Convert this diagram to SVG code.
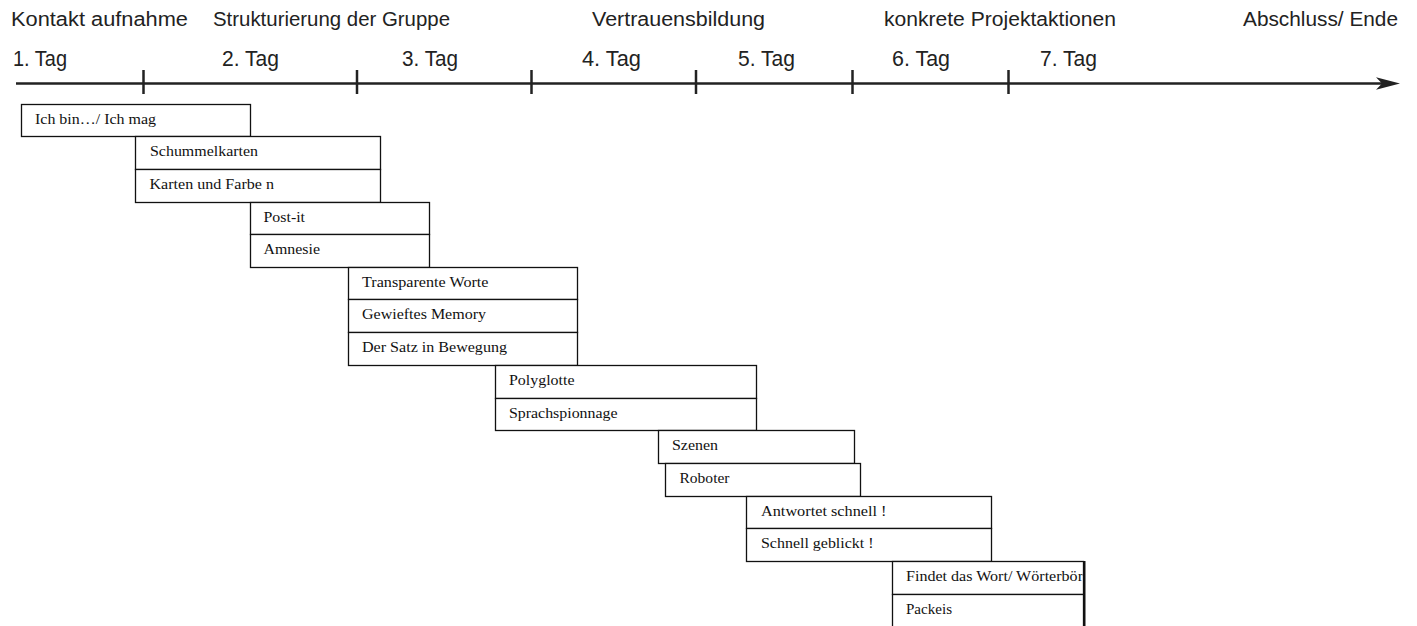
<svg xmlns="http://www.w3.org/2000/svg" width="1417" height="626" viewBox="0 0 1417 626">
<defs>
<style>
.hd{font-family:"Liberation Sans",Arial,sans-serif;font-size:20px;fill:#222}
.day{font-family:"Liberation Sans",Arial,sans-serif;font-size:22px;fill:#222}
.bx{fill:#fff;stroke:#111;stroke-width:1.3}
.bt{font-family:"Liberation Serif","Times New Roman",serif;font-size:14.5px;fill:#111}
.ax{stroke:#222;stroke-width:2.5;fill:none}
</style>
<clipPath id="clipFindet"><rect x="892" y="561" width="190.5" height="33"/></clipPath>
</defs>
<rect width="1417" height="626" fill="#fff"/>
<g id="headers">
<text class="hd" x="11" y="26" textLength="177" lengthAdjust="spacingAndGlyphs">Kontakt aufnahme</text>
<text class="hd" x="213" y="26" textLength="237" lengthAdjust="spacingAndGlyphs">Strukturierung der Gruppe</text>
<text class="hd" x="592" y="26" textLength="173" lengthAdjust="spacingAndGlyphs">Vertrauensbildung</text>
<text class="hd" x="884" y="26" textLength="232" lengthAdjust="spacingAndGlyphs">konkrete Projektaktionen</text>
<text class="hd" x="1243" y="26" textLength="155" lengthAdjust="spacingAndGlyphs">Abschluss/ Ende</text>
</g>
<g id="days">
<text class="day" x="13" y="66" textLength="54" lengthAdjust="spacingAndGlyphs">1. Tag</text>
<text class="day" x="222" y="66" textLength="57" lengthAdjust="spacingAndGlyphs">2. Tag</text>
<text class="day" x="402" y="66" textLength="56" lengthAdjust="spacingAndGlyphs">3. Tag</text>
<text class="day" x="582" y="66" textLength="59" lengthAdjust="spacingAndGlyphs">4. Tag</text>
<text class="day" x="738" y="66" textLength="57" lengthAdjust="spacingAndGlyphs">5. Tag</text>
<text class="day" x="892" y="66" textLength="58" lengthAdjust="spacingAndGlyphs">6. Tag</text>
<text class="day" x="1040" y="66" textLength="57" lengthAdjust="spacingAndGlyphs">7. Tag</text>
</g>
<g id="connectors">
<line class="ax" x1="16" y1="83.5" x2="1384" y2="83.5"/>
<path d="M1400,83.5 L1376,77.3 L1382,83.5 L1376,89.7 Z" fill="#222"/>
<line class="ax" x1="143.5" y1="70" x2="143.5" y2="94"/>
<line class="ax" x1="357" y1="70" x2="357" y2="94"/>
<line class="ax" x1="531.5" y1="70" x2="531.5" y2="94"/>
<line class="ax" x1="696" y1="70" x2="696" y2="94"/>
<line class="ax" x1="852.5" y1="70" x2="852.5" y2="94"/>
<line class="ax" x1="1008.5" y1="70" x2="1008.5" y2="94"/>
</g>
<g id="n1"><rect class="bx" x="21.5" y="104.5" width="229" height="32"/><text class="bt" x="35" y="123.5" textLength="121" lengthAdjust="spacingAndGlyphs">Ich bin…/ Ich mag</text></g>
<g id="n2"><rect class="bx" x="135.5" y="136.5" width="245" height="33"/><text class="bt" x="150" y="156" textLength="108" lengthAdjust="spacingAndGlyphs">Schummelkarten</text></g>
<g id="n3"><rect class="bx" x="135.5" y="169.5" width="245" height="33"/><text class="bt" x="149.5" y="189" textLength="124.5" lengthAdjust="spacingAndGlyphs">Karten und Farbe n</text></g>
<g id="n4"><rect class="bx" x="250.5" y="202.5" width="179" height="32"/><text class="bt" x="263.5" y="222" textLength="41.5" lengthAdjust="spacingAndGlyphs">Post-it</text></g>
<g id="n5"><rect class="bx" x="250.5" y="234.5" width="179" height="33"/><text class="bt" x="263.5" y="254" textLength="56.5" lengthAdjust="spacingAndGlyphs">Amnesie</text></g>
<g id="n6"><rect class="bx" x="348.5" y="267.5" width="229" height="32"/><text class="bt" x="362" y="287" textLength="126.5" lengthAdjust="spacingAndGlyphs">Transparente Worte</text></g>
<g id="n7"><rect class="bx" x="348.5" y="299.5" width="229" height="33"/><text class="bt" x="362" y="319" textLength="124" lengthAdjust="spacingAndGlyphs">Gewieftes Memory</text></g>
<g id="n8"><rect class="bx" x="348.5" y="332.5" width="229" height="33"/><text class="bt" x="362" y="352" textLength="145" lengthAdjust="spacingAndGlyphs">Der Satz in Bewegung</text></g>
<g id="n9"><rect class="bx" x="495.5" y="365.5" width="261" height="33"/><text class="bt" x="509" y="385" textLength="65.5" lengthAdjust="spacingAndGlyphs">Polyglotte</text></g>
<g id="n10"><rect class="bx" x="495.5" y="398.5" width="261" height="32"/><text class="bt" x="509" y="418" textLength="108.5" lengthAdjust="spacingAndGlyphs">Sprachspionnage</text></g>
<g id="n11"><rect class="bx" x="658.5" y="430.5" width="196" height="33"/><text class="bt" x="672" y="450" textLength="46" lengthAdjust="spacingAndGlyphs">Szenen</text></g>
<g id="n12"><rect class="bx" x="665.5" y="463.5" width="195" height="33"/><text class="bt" x="679.5" y="483" textLength="50" lengthAdjust="spacingAndGlyphs">Roboter</text></g>
<g id="n13"><rect class="bx" x="746.5" y="496.5" width="245" height="32"/><text class="bt" x="761" y="516" textLength="125.5" lengthAdjust="spacingAndGlyphs">Antwortet schnell !</text></g>
<g id="n14"><rect class="bx" x="746.5" y="528.5" width="245" height="33"/><text class="bt" x="761" y="548" textLength="112.5" lengthAdjust="spacingAndGlyphs">Schnell geblickt !</text></g>
<g id="n15"><rect class="bx" x="892.5" y="561.5" width="191" height="33"/><text class="bt" x="906" y="581" textLength="177" lengthAdjust="spacingAndGlyphs" clip-path="url(#clipFindet)">Findet das Wort/ Wörterbör</text></g>
<g id="n16"><rect class="bx" x="892.5" y="594.5" width="191" height="40"/><text class="bt" x="906" y="614" textLength="46" lengthAdjust="spacingAndGlyphs">Packeis</text></g>
<line x1="1084.5" y1="561" x2="1084.5" y2="626" stroke="#111" stroke-width="2"/>
</svg>
